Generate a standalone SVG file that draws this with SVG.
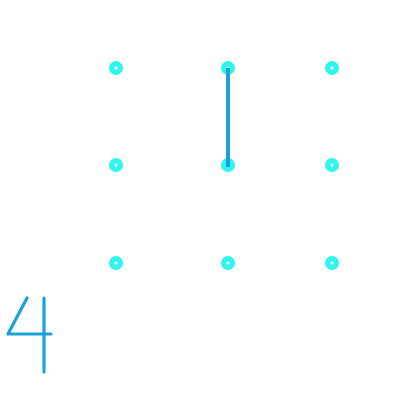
<svg xmlns="http://www.w3.org/2000/svg" width="420" height="420" viewBox="0 0 420 420">
<style>
.dot{fill:#2ef5ee}
.hole{fill:#ffffff}
.link{stroke:#1ba1d9;stroke-width:4;stroke-linecap:butt;fill:none}
.digit{stroke:#1ba1d9;stroke-width:3.2;stroke-linecap:round;stroke-linejoin:round;fill:none}
</style>
<defs>
<g id="pt"><circle class="dot" r="7"/><circle class="hole" r="1.6"/></g>
</defs>
<rect width="420" height="420" fill="#ffffff"/>
<g id="n1"><use href="#pt" x="116" y="68"/></g>
<g id="n2"><use href="#pt" x="228" y="68"/></g>
<g id="n3"><use href="#pt" x="332" y="68"/></g>
<g id="n4"><use href="#pt" x="116" y="165"/></g>
<g id="n5"><use href="#pt" x="228" y="165"/></g>
<g id="n6"><use href="#pt" x="332" y="165"/></g>
<g id="n7"><use href="#pt" x="116" y="263"/></g>
<g id="n8"><use href="#pt" x="228" y="263"/></g>
<g id="n9"><use href="#pt" x="332" y="263"/></g>
<g id="connectors">
<line class="link" x1="228" y1="68" x2="228" y2="167"/>
</g>
<g id="digit4">
<polyline class="digit" points="27,298 8,334 51,334"/>
<line class="digit" x1="44" y1="298" x2="44" y2="372"/>
</g>
</svg>
